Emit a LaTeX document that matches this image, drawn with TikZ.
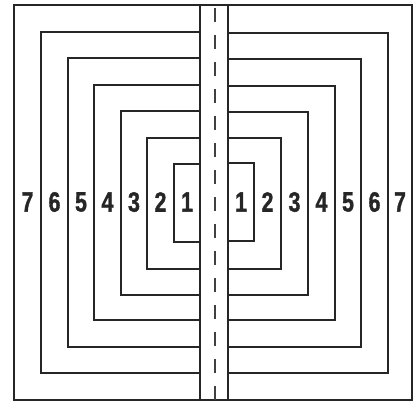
\documentclass[tikz,border=0pt]{standalone}
\usepackage{fontspec}
\newfontfamily\numfont[FakeStretch=0.76, FakeBold=1.2]{Liberation Sans Bold}
\begin{document}
\begin{tikzpicture}[x=1pt,y=-1pt,
  wall/.style={line width=1.3pt, black!85, line join=miter},
  lane/.style={line width=1.4pt, black!75, dash pattern=on 14pt off 13pt, dash phase=24pt},
  num/.style={font=\numfont\fontsize{28}{28}\selectfont, inner sep=0pt, text=black!85}]
\useasboundingbox (0,0) rectangle (414,404);
% outer boundary and road edges
\draw[wall] (14,5) rectangle (412,400);
\draw[wall] (200,5) -- (200,400);
\draw[wall] (228,5) -- (228,400);
% left rings
\foreach \x/\t/\b in {41/32/373, 68/58/347, 94/85/320, 121/111/295, 147/138/269, 174/164/242}
  \draw[wall] (200,\t) -- (\x,\t) -- (\x,\b) -- (200,\b);
% right rings
\foreach \x/\t/\b in {388/33/373, 361/59/347, 335/86/320, 308/112/295, 281/138/269, 254/163/241}
  \draw[wall] (228,\t) -- (\x,\t) -- (\x,\b) -- (228,\b);
% centre line of the road
\draw[lane] (215,5) -- (215,400);
% labels
\foreach \n/\x in {7/27.5, 6/54.5, 5/81, 4/107.5, 3/134, 2/160.5, 1/187}
  \node[num] (L\n) at (\x,202) {\n};
\foreach \n/\x in {1/241, 2/267.5, 3/294.5, 4/321.5, 5/348, 6/374.5, 7/400}
  \node[num] (R\n) at (\x,202) {\n};
\end{tikzpicture}
\end{document}
